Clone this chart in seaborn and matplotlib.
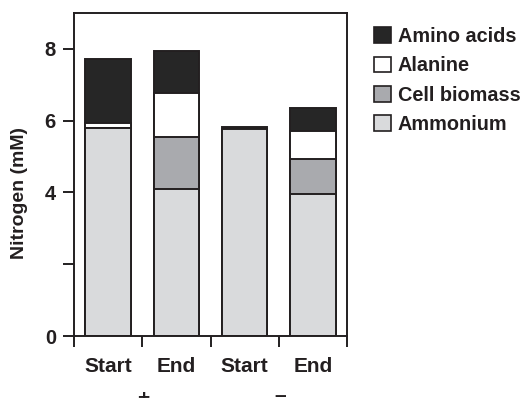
import matplotlib
matplotlib.use("Agg")
import matplotlib.pyplot as plt
import seaborn as sns
import numpy as np
from matplotlib.patches import Patch

# ---- data ----
bar_ids = ["Start +", "End +", "Start -", "End -"]
bar_labels = ["Start", "End", "Start", "End"]
groups = ["+", "\u2013"]
layers = ["Ammonium", "Cell biomass", "Alanine", "Amino acids"]
ammonium = [5.79, 4.09, 5.78, 3.95]
cell_biomass = [0.0, 1.45, 0.0, 0.99]
alanine = [0.14, 1.24, 0.0, 0.76]
amino_acids = [1.79, 1.16, 0.04, 0.64]

colors = {"Ammonium": "#d9dadc", "Cell biomass": "#a9aaae",
          "Alanine": "#ffffff", "Amino acids": "#262626"}
edge = "#231f20"

sns.set_theme(style="ticks")
plt.rcParams["font.family"] = ["Liberation Sans", "DejaVu Sans"]
plt.rcParams["font.weight"] = "bold"

fig = plt.figure(figsize=(5.25, 3.98), dpi=100)
ax = fig.add_axes([74/525, 1-336/398, (347-74)/525, (336-13)/398])

values = [ammonium, cell_biomass, alanine, amino_acids]
cum = np.cumsum(np.array(values), axis=0)
# draw from top layer down so lower layers overlay
for i in range(len(layers)-1, -1, -1):
    sns.barplot(x=bar_ids, y=cum[i], color=colors[layers[i]], edgecolor=edge,
                linewidth=1.4, width=0.67, ax=ax, saturation=1)

ax.set_xlim(-0.5, 3.5)
ax.set_ylim(0, 9)
ax.set_yticks([0, 2, 4, 6, 8])
ax.set_yticklabels(["0", "", "4", "6", "8"])
ax.set_xticks([-0.5, 0.5, 1.5, 2.5, 3.5])
ax.set_xticklabels([])
ax.set_xticks([0, 1, 2, 3], minor=True)
ax.set_xticklabels(bar_labels, minor=True)
ax.tick_params(axis="x", which="minor", length=0, pad=15, labelsize=15)
ax.tick_params(axis="x", which="major", length=8, width=1.4, color=edge)
ax.tick_params(axis="y", length=8, width=1.4, color=edge, pad=5, labelsize=14.5)
for lab in ax.get_xticklabels(minor=True) + ax.get_yticklabels():
    lab.set_fontweight("bold")
    lab.set_color("#231f20")
for s in ax.spines.values():
    s.set_linewidth(1.4)
    s.set_color(edge)

ax.set_xlabel("")
ax.set_ylabel("Nitrogen (mM)", fontsize=14, fontweight="bold", color="#231f20")
ax.yaxis.set_label_coords(-0.17, 0.444)

fig.text(143/525, 1-404/398, groups[0], ha="center", va="baseline",
         fontsize=15, fontweight="bold", color="#231f20")
fig.text(280/525, 1-401/398, groups[1], ha="center", va="baseline",
         fontsize=15, fontweight="bold", color="#231f20")

handles = [Patch(facecolor=colors[l], edgecolor=edge, linewidth=1.2) for l in layers[::-1]]
leg = fig.legend(handles, layers[::-1], loc="upper left",
                 bbox_to_anchor=(374/525, 1-27/398), frameon=False,
                 borderpad=0, borderaxespad=0, handlelength=0.85, handleheight=0.85,
                 handletextpad=0.35, labelspacing=0.52, fontsize=14.3)
for t in leg.get_texts():
    t.set_fontweight("bold")
    t.set_color("#231f20")

fig.savefig("out.png", dpi=100)
